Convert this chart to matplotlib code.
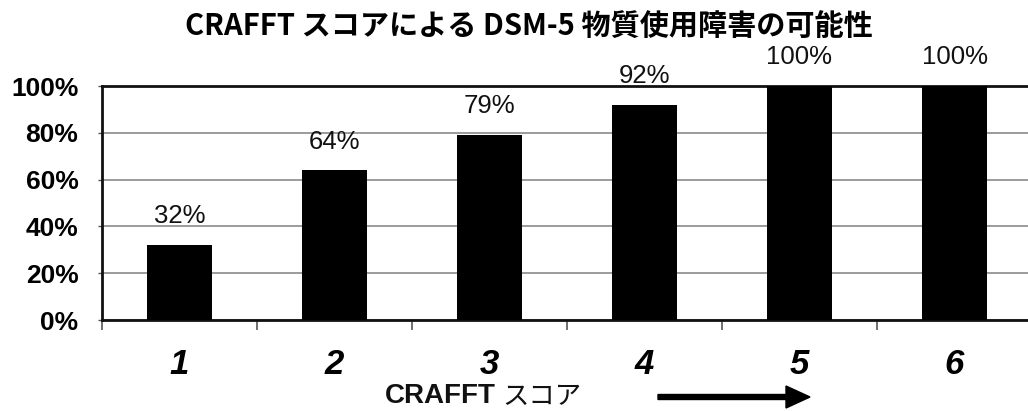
import matplotlib
matplotlib.use('Agg')
from matplotlib import pyplot as plt
from matplotlib.ticker import FixedLocator

# CRAFFT score -> probability of DSM-5 substance use disorder
scores = ['1', '2', '3', '4', '5', '6']
percents = [32, 64, 79, 92, 100, 100]
yticks = [0, 20, 40, 60, 80, 100]

plt.rcParams['font.family'] = ['Liberation Sans', 'Noto Sans CJK JP']

fig = plt.figure(figsize=(10.28, 4.11), dpi=100)
ax = fig.add_axes([102/1028, 1 - 320/411, 930/1028, 234/411])

x = list(range(1, len(scores) + 1))
ax.bar(x, percents, width=0.42, color='black', zorder=3)

for xi, p in zip(x, percents):
    ax.annotate(f'{p}%', (xi, p), xytext=(0, 12), textcoords='offset points',
                ha='center', va='bottom', fontsize=18.5, color='#111111',
                annotation_clip=False)

ax.set_xlim(0.5, len(scores) + 0.5)
ax.set_ylim(0, 100)
ax.set_yticks(yticks)
ax.set_yticklabels([f'{t}%' for t in yticks], fontsize=19, fontweight='bold')
ax.yaxis.grid(True, color='#8a8a8a', lw=1.2, zorder=1)
ax.tick_params(axis='y', length=3, width=1, color='#555555', pad=14)

ax.set_xticks(x)
ax.set_xticklabels(scores, fontsize=25, fontweight='bold', fontstyle='italic')
ax.xaxis.set_minor_locator(FixedLocator([i + 0.5 for i in range(len(scores) + 1)]))
ax.tick_params(axis='x', which='major', length=0, pad=20)
ax.tick_params(axis='x', which='minor', length=7, width=1.2, color='#555555', direction='out')

for s in ['left', 'bottom', 'top']:
    ax.spines[s].set_linewidth(2)
    ax.spines[s].set_color('#111111')
ax.spines['right'].set_visible(False)

fig.text(0.514, 1 - 26/411, 'CRAFFT スコアによる DSM-5 物質使用障害の可能性',
         ha='center', va='center', fontsize=21, fontweight='bold',
         family=['Noto Sans CJK JP', 'DejaVu Sans'])

fig.text(385/1028, 1 - 396/411, 'CRAFFT', ha='left', va='center',
         fontsize=20, fontweight='bold', color='#111111')
fig.text(502/1028, 1 - 396/411, 'スコア', ha='left', va='center',
         fontsize=19, family=['Noto Sans CJK JP'], color='#111111')

fig.patches.append(matplotlib.patches.FancyArrow(
    658/1028, 1 - 397/411, 128/1028, 0, width=5/411, head_width=22/411,
    head_length=24/1028, length_includes_head=False, color='black',
    transform=fig.transFigure, figure=fig))

fig.savefig('out.png', dpi=100)
